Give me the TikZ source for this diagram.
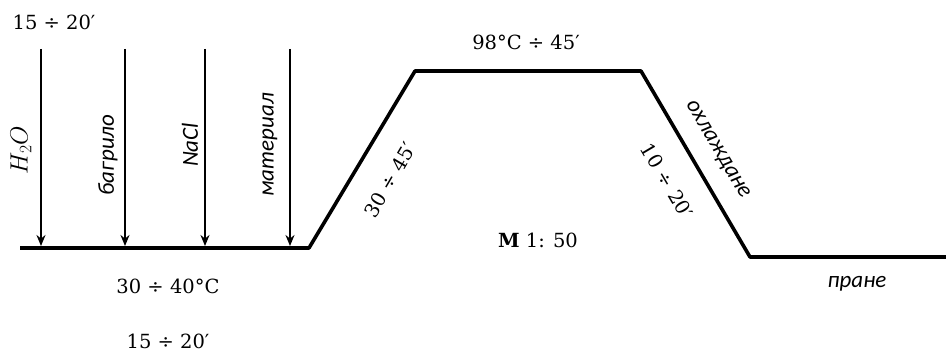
\documentclass[tikz,border=0pt]{standalone}
\usepackage{fix-cm}
\usepackage{fontspec}
\newfontfamily\calibfont{Carlito}
\newfontfamily\numfont{DejaVu Serif}
\usetikzlibrary{arrows.meta}
\tikzset{
  mathlbl/.style={inner sep=0pt, font=\fontsize{19.5}{24}\selectfont\numfont},
  hlbl/.style={inner sep=0pt, font=\fontsize{25}{28}\selectfont},
  wordlbl/.style={inner sep=0pt, font=\fontsize{23}{26}\selectfont\calibfont\itshape},
  profile/.style={line width=3.6pt, line join=round},
  feed/.style={line width=1.8pt, -{Stealth[length=11pt,width=9pt]}}
}
\begin{document}
\begin{tikzpicture}[x=1pt,y=-1pt]
\useasboundingbox[fill=white] (0,0) rectangle (946,352);
% profile corners
\coordinate (b0) at (20,248);
\coordinate (b1) at (309,248);
\coordinate (t0) at (415,71);
\coordinate (t1) at (641,71);
\coordinate (e0) at (750,257);
\coordinate (e1) at (950,257);
\draw[profile] (b0) -- (b1) -- (t0) -- (t1) -- (e0) -- (e1);
% feed arrows
\coordinate (a1s) at (41,49);  \coordinate (a1e) at (41,246);
\coordinate (a2s) at (125,49); \coordinate (a2e) at (125,246);
\coordinate (a3s) at (205,49); \coordinate (a3e) at (205,246);
\coordinate (a4s) at (290,49); \coordinate (a4e) at (290,246);
\draw[feed] (a1s) -- (a1e);
\draw[feed] (a2s) -- (a2e);
\draw[feed] (a3s) -- (a3e);
\draw[feed] (a4s) -- (a4e);
% labels
\node[mathlbl] (ttop) at (54,22) {15 ÷ 20′};
\node[hlbl, rotate=90] (h2o) at (21,150) {$H_2O$};
\node[wordlbl, rotate=90] (bag) at (108,155) {багрило};
\node[wordlbl, rotate=90] (nacl) at (190,145) {NaCl};
\node[wordlbl, rotate=90] (mat) at (270,145) {материал};
\node[mathlbl] (top) at (526,42) {98°C ÷ 45′};
\node[mathlbl, rotate=59.5] (up) at (390,180) {30 ÷ 45′};
\node[mathlbl, rotate=-59.5] (down) at (667,181) {10 ÷ 20′};
\node[wordlbl, rotate=-59.5] (cool) at (717,150) {охлаждане};
\node[mathlbl] (scale) at (538,240) {\textbf{M} 1: 50};
\node[mathlbl] (temp) at (168,286) {30 ÷ 40°C};
\node[mathlbl] (tbot) at (168,341) {15 ÷ 20′};
\node[wordlbl] (wash) at (857,284) {пране};
\end{tikzpicture}
\end{document}
